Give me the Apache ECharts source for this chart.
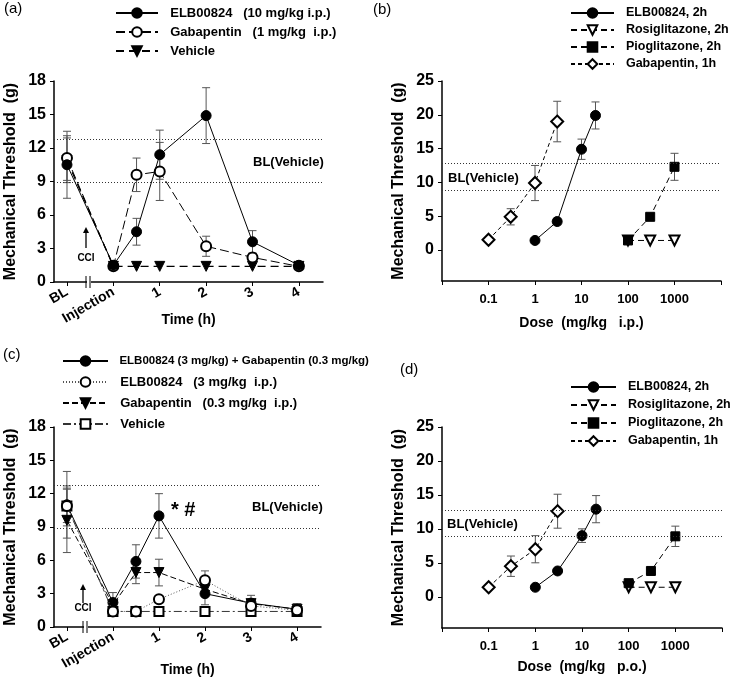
<!DOCTYPE html>
<html><head><meta charset="utf-8">
<script src="https://cdn.jsdelivr.net/npm/echarts@6/dist/echarts.min.js"></script>
<style>html,body{margin:0;padding:0;background:#fff}#c{width:734px;height:682px}</style>
</head><body><div id="c"></div>
<script>
// ---------------- data ----------------
const timeX = [-1, 0, 0.5, 1, 2, 3, 4];
const timeTickValues = [-1, 0, 1, 2, 3, 4];
const timeTickLabels = ['BL', 'Injection', '1', '2', '3', '4'];
const timeYTicks = [0, 3, 6, 9, 12, 15, 18];
const doseTickLabels = ['0.1', '1', '10', '100', '1000'];
const doseYTicks = [0, 5, 10, 15, 20, 25];
const blUpper = 12.8, blLower = 8.9;

// panel (a)
const aNames = ['ELB00824   (10 mg/kg i.p.)', 'Gabapentin   (1 mg/kg  i.p.)', 'Vehicle'];
const aELB = [10.5, 1.5, 4.5, 11.4, 14.9, 3.6, 1.5];
const aELBErr = [3.0, 0.3, 1.2, 2.2, 2.5, 1.0, 0.3];
const aGaba = [11.1, 1.4, 9.6, 9.9, 3.2, 2.2, 1.4];
const aGabaErr = [2.0, 0.3, 1.5, 2.6, 0.9, 0.3, 0.3];
const aVeh = [10.9, 1.4, 1.4, 1.4, 1.4, 1.4, 1.4];
const aVehErr = [2.0, 0, 0, 0, 0, 0, 0];

// panel (b)  (i.p.)
const bNames = ['ELB00824, 2h', 'Rosiglitazone, 2h', 'Pioglitazone, 2h', 'Gabapentin, 1h'];
const bELBDose = [1, 3, 10, 20];
const bELB = [1.4, 4.2, 14.9, 19.9];
const bELBErr = [0.2, 0.5, 1.5, 2.0];
const bRosiDose = [100, 300, 1000];
const bRosi = [1.4, 1.4, 1.4];
const bRosiErr = [0, 0, 0];
const bPioDose = [100, 300, 1000];
const bPio = [1.4, 4.9, 12.3];
const bPioErr = [0.2, 0.5, 2.0];
const bGabaDose = [0.1, 0.3, 1, 3];
const bGaba = [1.5, 4.9, 9.9, 19.0];
const bGabaErr = [0, 1.2, 2.6, 3.0];

// panel (c)
const cNames = ['ELB00824 (3 mg/kg) + Gabapentin (0.3 mg/kg)', 'ELB00824   (3 mg/kg  i.p.)', 'Gabapentin   (0.3 mg/kg  i.p.)', 'Vehicle'];
const cCombo = [11.0, 2.2, 5.9, 10.0, 3.0, 2.15, 1.6];
const cComboErr = [3.0, 0.9, 1.5, 2.0, 1.0, 0.7, 0.5];
const cELB = [10.9, 1.4, 1.4, 2.5, 4.2, 1.9, 1.5];
const cELBErr = [1.5, 0, 0, 0, 0.85, 0.3, 0.3];
const cGaba = [9.6, 2.0, 4.9, 4.9, 3.4, 2.1, 1.6];
const cGabaErr = [2.9, 0.5, 1.0, 1.2, 0.5, 0.4, 0.3];
const cVeh = [10.9, 1.4, 1.4, 1.4, 1.4, 1.4, 1.4];
const cVehErr = [1.8, 0, 0, 0, 0, 0, 0];

// panel (d)  (p.o.)
const dNames = ['ELB00824, 2h', 'Rosiglitazone, 2h', 'Pioglitazone, 2h', 'Gabapentin, 1h'];
const dELBDose = [1, 3, 10, 20];
const dELB = [1.4, 3.8, 9.0, 12.9];
const dELBErr = [0, 0.3, 1.0, 2.0];
const dRosiDose = [100, 300, 1000];
const dRosi = [1.4, 1.4, 1.4];
const dRosiErr = [0, 0, 0];
const dPioDose = [100, 300, 1000];
const dPio = [2.0, 3.8, 8.9];
const dPioErr = [0.3, 0.3, 1.5];
const dGabaDose = [0.1, 0.3, 1, 3];
const dGaba = [1.4, 4.5, 7.0, 12.6];
const dGabaErr = [0, 1.5, 2.0, 2.5];

// ---------------- helpers ----------------
const FONT = '"Liberation Sans", Arial, sans-serif';

function pts(xs, ys) { return xs.map((x, i) => [x, ys[i]]); }
function errs(xs, ys, es) {
  const out = [];
  xs.forEach((x, i) => { if (es[i] > 0) out.push([x, ys[i] - es[i], ys[i] + es[i]]); });
  return out;
}
function errSeries(gi, data) {
  return {
    type: 'custom', xAxisIndex: gi, yAxisIndex: gi, z: 1, silent: true, data: data,
    encode: { x: 0, y: [1, 2] },
    renderItem: function (params, api) {
      const x = api.value(0);
      const lo = api.coord([x, api.value(1)]);
      const hi = api.coord([x, api.value(2)]);
      const w = 4, st = { stroke: '#555', lineWidth: 1 };
      return { type: 'group', children: [
        { type: 'line', shape: { x1: lo[0], y1: lo[1], x2: hi[0], y2: hi[1] }, style: st },
        { type: 'line', shape: { x1: hi[0] - w, y1: hi[1], x2: hi[0] + w, y2: hi[1] }, style: st },
        { type: 'line', shape: { x1: lo[0] - w, y1: lo[1], x2: lo[0] + w, y2: lo[1] }, style: st }
      ]};
    }
  };
}
function lineSeries(gi, name, xs, ys, o) {
  return {
    type: 'line', name: name, xAxisIndex: gi, yAxisIndex: gi, data: pts(xs, ys),
    symbol: o.symbol, symbolSize: o.size || 10, symbolRotate: o.rotate || 0, z: o.z || 3,
    lineStyle: { color: o.color || '#000', width: o.width || 1, type: o.dash || 'solid' },
    itemStyle: { color: '#000', borderColor: '#000', borderWidth: 1 },
    emphasis: { disabled: true }, animation: false
  };
}
function blMark() {
  return { silent: true, symbol: ['none', 'none'], label: { show: false },
    lineStyle: { color: '#333', width: 1, type: [1, 2] },
    data: [{ yAxis: blUpper }, { yAxis: blLower }], animation: false };
}

const axisLine = { show: true, onZero: false, lineStyle: { color: '#000', width: 1.5 } };
const tickStyle = { color: '#000', width: 1 };

function timeXAxis(gi, gap) {
  return {
    type: 'value', gridIndex: gi, min: -1.28, max: 4.52,
    axisLine: axisLine, splitLine: { show: false },
    axisTick: { show: true, customValues: timeTickValues, length: 4, lineStyle: tickStyle },
    axisLabel: { customValues: timeTickValues, rotate: 30, margin: 9,
      formatter: v => timeTickLabels[timeTickValues.indexOf(v)],
      color: '#000', fontSize: 14, fontWeight: 'bold', fontFamily: FONT },
    name: 'Time (h)', nameLocation: 'middle', nameGap: gap, nameMoveOverlap: false,
    nameTextStyle: { color: '#000', fontSize: 14, fontWeight: 'bold', fontFamily: FONT }
  };
}
function timeYAxis(gi) {
  return {
    type: 'value', gridIndex: gi, min: 0, max: 18, interval: 3,
    axisLine: axisLine, splitLine: { show: false },
    axisTick: { show: true, length: 4, lineStyle: tickStyle },
    axisLabel: { margin: 8, color: '#000', fontSize: 16, fontWeight: 'bold', fontFamily: FONT },
    name: 'Mechanical Threshold  (g)', nameLocation: 'middle', nameGap: 35, nameMoveOverlap: false,
    nameTextStyle: { color: '#000', fontSize: 16, fontWeight: 'bold', fontFamily: FONT }
  };
}
function doseXAxis(gi, title, gap) {
  return {
    type: 'log', logBase: 10, gridIndex: gi, min: 0.01, max: 10000,
    axisLine: axisLine, splitLine: { show: false }, minorTick: { show: false },
    axisTick: { show: true, length: 4, lineStyle: tickStyle },
    axisLabel: { margin: 12, color: '#000', fontSize: 13, fontWeight: 'bold', fontFamily: FONT,
      formatter: v => { const k = Math.round(Math.log10(v)); return (k >= -1 && k <= 3) ? doseTickLabels[k + 1] : ''; } },
    name: title, nameLocation: 'middle', nameGap: gap, nameMoveOverlap: false,
    nameTextStyle: { color: '#000', fontSize: 14, fontWeight: 'bold', fontFamily: FONT }
  };
}
function doseYAxis(gi) {
  return {
    type: 'value', gridIndex: gi, min: -4.6, max: 25,
    axisLine: axisLine, splitLine: { show: false },
    axisTick: { show: true, customValues: doseYTicks, length: 4, lineStyle: tickStyle },
    axisLabel: { customValues: doseYTicks, margin: 8, color: '#000', fontSize: 16, fontWeight: 'bold', fontFamily: FONT },
    name: 'Mechanical Threshold  (g)', nameLocation: 'middle', nameGap: 35, nameMoveOverlap: false,
    nameTextStyle: { color: '#000', fontSize: 16, fontWeight: 'bold', fontFamily: FONT }
  };
}
function legend(prefix, names, left, top, itemWidth, gap, fontSize, smallFirst) {
  return {
    show: true, orient: 'vertical', left: left, top: top, padding: 0,
    itemWidth: itemWidth, itemHeight: 12, itemGap: gap, selectedMode: false,
    data: names.map(n => prefix + n),
    formatter: n => (smallFirst && n === prefix + names[0]) ? '{s|  ' + n.slice(2) + '}' : '  ' + n.slice(2),
    textStyle: { color: '#000', fontSize: fontSize, fontWeight: 'bold', fontFamily: FONT, lineHeight: 16,
      rich: { s: { fontSize: 11.5, fontWeight: 'bold', fontFamily: FONT, color: '#000', lineHeight: 16 } } }
  };
}

// ---------------- series ----------------
const series = [];
// (a)
series.push(Object.assign(lineSeries(0, 'a:' + aNames[0], timeX, aELB, { symbol: 'circle', size: 10, z: 5 }), { markLine: blMark() }));
series.push(lineSeries(0, 'a:' + aNames[1], timeX, aGaba, { symbol: 'emptyCircle', size: 10, dash: [9, 4], z: 4 }));
series.push(lineSeries(0, 'a:' + aNames[2], timeX, aVeh, { symbol: 'triangle', rotate: 180, size: 10, dash: [8, 5], width: 1.3 }));
series.push(errSeries(0, errs(timeX, aELB, aELBErr)));
series.push(errSeries(0, errs(timeX, aGaba, aGabaErr)));
series.push(errSeries(0, errs(timeX, aVeh, aVehErr)));
// (b)
series.push(Object.assign(lineSeries(1, 'b:' + bNames[0], bELBDose, bELB, { symbol: 'circle', size: 10 }), { markLine: blMark() }));
series.push(lineSeries(1, 'b:' + bNames[1], bRosiDose, bRosi, { symbol: 'emptyTriangle', rotate: 180, size: 10, dash: [6, 4] }));
series.push(lineSeries(1, 'b:' + bNames[2], bPioDose, bPio, { symbol: 'rect', size: 9, dash: [6, 4], z: 4 }));
series.push(lineSeries(1, 'b:' + bNames[3], bGabaDose, bGaba, { symbol: 'emptyDiamond', size: 12, dash: [4, 3] }));
series.push(errSeries(1, errs(bELBDose, bELB, bELBErr)));
series.push(errSeries(1, errs(bRosiDose, bRosi, bRosiErr)));
series.push(errSeries(1, errs(bPioDose, bPio, bPioErr)));
series.push(errSeries(1, errs(bGabaDose, bGaba, bGabaErr)));
// (c)
series.push(Object.assign(lineSeries(2, 'c:' + cNames[0], timeX, cCombo, { symbol: 'circle', size: 10, z: 4 }), { markLine: blMark() }));
series.push(lineSeries(2, 'c:' + cNames[1], timeX, cELB, { symbol: 'emptyCircle', size: 10, dash: [1, 2], color: '#555', z: 5 }));
series.push(lineSeries(2, 'c:' + cNames[2], timeX, cGaba, { symbol: 'triangle', rotate: 180, size: 10, dash: [6, 3] }));
series.push(lineSeries(2, 'c:' + cNames[3], timeX, cVeh, { symbol: 'emptyRect', size: 9, dash: [8, 3, 2, 3], color: '#333' }));
series.push(errSeries(2, errs(timeX, cCombo, cComboErr)));
series.push(errSeries(2, errs(timeX, cELB, cELBErr)));
series.push(errSeries(2, errs(timeX, cGaba, cGabaErr)));
series.push(errSeries(2, errs(timeX, cVeh, cVehErr)));
// (d)
series.push(Object.assign(lineSeries(3, 'd:' + dNames[0], dELBDose, dELB, { symbol: 'circle', size: 10 }), { markLine: blMark() }));
series.push(lineSeries(3, 'd:' + dNames[1], dRosiDose, dRosi, { symbol: 'emptyTriangle', rotate: 180, size: 10, dash: [6, 4] }));
series.push(lineSeries(3, 'd:' + dNames[2], dPioDose, dPio, { symbol: 'rect', size: 9, dash: [6, 4], z: 4 }));
series.push(lineSeries(3, 'd:' + dNames[3], dGabaDose, dGaba, { symbol: 'emptyDiamond', size: 12, dash: [4, 3] }));
series.push(errSeries(3, errs(dELBDose, dELB, dELBErr)));
series.push(errSeries(3, errs(dRosiDose, dRosi, dRosiErr)));
series.push(errSeries(3, errs(dPioDose, dPio, dPioErr)));
series.push(errSeries(3, errs(dGabaDose, dGaba, dGabaErr)));

// ---------------- annotations ----------------
function txt(x, y, s, size, bold, align) {
  return { type: 'text', x: x, y: y, z: 50, style: { text: s, fill: '#000', font: (bold ? 'bold ' : '') + size + 'px ' + FONT, textAlign: align || 'left', textVerticalAlign: 'middle' } };
}
function brk(x, y) {
  return [
    { type: 'rect', shape: { x: x - 1, y: y - 2, width: 4, height: 4 }, style: { fill: '#fff' }, z: 40 },
    { type: 'line', shape: { x1: x - 2, y1: y - 6, x2: x - 2, y2: y + 6 }, style: { stroke: '#000', lineWidth: 1 }, z: 41 },
    { type: 'line', shape: { x1: x + 2, y1: y - 6, x2: x + 2, y2: y + 6 }, style: { stroke: '#000', lineWidth: 1 }, z: 41 }
  ];
}
function arrow(x, yTip, yTail) {
  return [
    { type: 'line', shape: { x1: x, y1: yTip + 3, x2: x, y2: yTail }, style: { stroke: '#000', lineWidth: 1.3 }, z: 41 },
    { type: 'polygon', shape: { points: [[x - 3, yTip + 6], [x, yTip], [x + 3, yTip + 6]] }, style: { fill: '#000' }, z: 41 }
  ];
}
const graphic = [
  txt(4, 9, '(a)', 15, false), txt(373, 10, '(b)', 15, false),
  txt(3, 355, '(c)', 15, false), txt(400, 370, '(d)', 15, false),
  txt(253, 162, 'BL(Vehicle)', 13, true),
  txt(448, 178, 'BL(Vehicle)', 13, true),
  txt(252, 507, 'BL(Vehicle)', 13, true),
  txt(447, 524, 'BL(Vehicle)', 13, true),
  txt(171, 510, '* #', 20, true),
  txt(86, 258, 'CCI', 10, true, 'center'),
  txt(83, 608, 'CCI', 10, true, 'center')
].concat(brk(88, 282), brk(85, 627), arrow(86, 227, 248), arrow(83, 584, 603));

// ---------------- chart ----------------
const chart = echarts.init(document.getElementById('c'), null, { renderer: 'canvas' });
chart.setOption({
  animation: false,
  backgroundColor: '#fff',
  textStyle: { fontFamily: FONT },
  grid: [
    { left: 54, top: 81, width: 269, height: 201, containLabel: false, outerBoundsMode: 'none' },
    { left: 442, top: 81, width: 279, height: 200, containLabel: false, outerBoundsMode: 'none' },
    { left: 54, top: 427, width: 267, height: 200, containLabel: false, outerBoundsMode: 'none' },
    { left: 442, top: 427, width: 280, height: 201, containLabel: false, outerBoundsMode: 'none' }
  ],
  xAxis: [timeXAxis(0, 31), doseXAxis(1, 'Dose  (mg/kg   i.p.)', 35), timeXAxis(2, 36), doseXAxis(3, 'Dose  (mg/kg   p.o.)', 32)],
  yAxis: [timeYAxis(0), doseYAxis(1), timeYAxis(2), doseYAxis(3)],
  legend: [
    legend('a:', aNames, 115, 5, 42, 3, 13, false),
    legend('b:', bNames, 570, 5, 43, 1, 12.5, false),
    legend('c:', cNames, 62, 353, 45, 5, 13, true),
    legend('d:', dNames, 570, 379, 45, 2, 12.5, false)
  ],
  series: series,
  graphic: graphic
});
</script>
</body></html>
